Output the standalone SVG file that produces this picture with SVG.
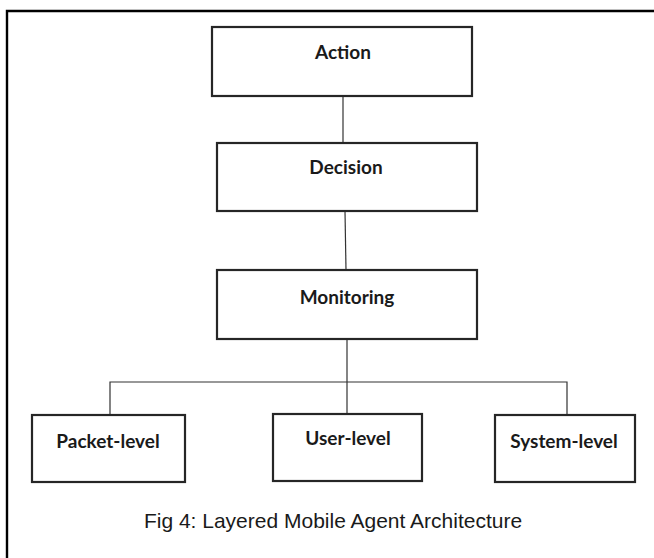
<svg xmlns="http://www.w3.org/2000/svg" width="654" height="558" viewBox="0 0 654 558">
  <style>
    .box { fill: #ffffff; stroke: #262626; stroke-width: 2.2; }
    .lbl { font-family: Lato, "Open Sans", "DejaVu Sans", sans-serif; font-weight: 700; font-size: 19px; fill: #1a1a1a; text-anchor: middle; }
    .conn { fill: none; stroke: #333333; stroke-width: 1.2; }
    .cap { font-family: "Liberation Sans", Arial, sans-serif; font-size: 21px; fill: #1a1a1a; text-anchor: middle; }
  </style>
  <rect x="0" y="0" width="654" height="558" fill="#ffffff"/>
  <path d="M7 570 V11 H670" fill="none" stroke="#000000" stroke-width="2.4"/>
  <g id="connectors">
    <line class="conn" x1="343" y1="96" x2="343" y2="143"/>
    <line class="conn" x1="345" y1="211" x2="346" y2="270"/>
    <line class="conn" x1="347" y1="339" x2="347" y2="414"/>
    <polyline class="conn" points="110,415 110,382 567,382 567,415"/>
  </g>
  <g id="action">
    <rect class="box" x="212" y="27" width="260" height="69"/>
    <text class="lbl" x="343" y="59">Action</text>
  </g>
  <g id="decision">
    <rect class="box" x="217" y="143" width="260" height="68"/>
    <text class="lbl" x="346" y="174">Decision</text>
  </g>
  <g id="monitoring">
    <rect class="box" x="217" y="270" width="260" height="69"/>
    <text class="lbl" x="347" y="304">Monitoring</text>
  </g>
  <g id="packet-level">
    <rect class="box" x="32" y="415" width="153" height="67"/>
    <text class="lbl" x="108" y="448">Packet-level</text>
  </g>
  <g id="user-level">
    <rect class="box" x="273" y="414" width="149" height="67"/>
    <text class="lbl" x="348" y="445">User-level</text>
  </g>
  <g id="system-level">
    <rect class="box" x="495" y="415" width="140" height="67"/>
    <text class="lbl" x="564" y="448">System-level</text>
  </g>
  <text class="cap" x="333" y="528">Fig 4: Layered Mobile Agent Architecture</text>
</svg>
